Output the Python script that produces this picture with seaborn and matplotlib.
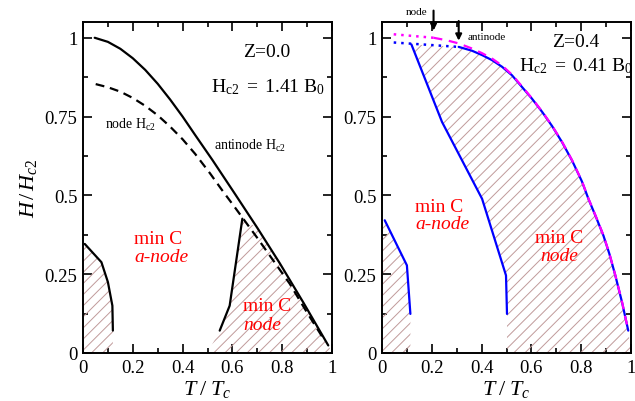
import matplotlib
matplotlib.use("Agg")
import matplotlib.pyplot as plt
from matplotlib.ticker import MultipleLocator
import seaborn as sns

# ---------------- Z = 0.0 panel ----------------
# antinode upper critical field (solid)
z0_anti_T = [0.047, 0.100, 0.150, 0.200, 0.250, 0.300, 0.350, 0.400, 0.450, 0.520, 0.610, 0.700, 0.790, 0.885, 0.985]
z0_anti_H = [1.000, 0.987, 0.965, 0.935, 0.898, 0.854, 0.804, 0.750, 0.692, 0.612, 0.505, 0.397, 0.285, 0.160, 0.024]
# node upper critical field (dashed)
z0_node_T = [0.051, 0.100, 0.150, 0.200, 0.250, 0.300, 0.350, 0.400, 0.450, 0.510, 0.560, 0.610, 0.700, 0.760, 0.830, 0.900, 0.970]
z0_node_H = [0.853, 0.843, 0.829, 0.809, 0.784, 0.754, 0.718, 0.678, 0.632, 0.570, 0.515, 0.462, 0.365, 0.298, 0.220, 0.128, 0.040]
# low-T boundary of the node-minimum region
z0_lowT_T = [0.007, 0.074, 0.100, 0.118, 0.120]
z0_lowT_H = [0.346, 0.288, 0.225, 0.150, 0.071]
# high-T boundary of the node-minimum region
z0_highT_T = [0.549, 0.589, 0.640]
z0_highT_H = [0.071, 0.150, 0.426]

# ---------------- Z = 0.4 panel ----------------
z4_hc2_T = [0.308, 0.361, 0.402, 0.442, 0.482, 0.522, 0.562, 0.602, 0.643, 0.683, 0.723,
            0.763, 0.803, 0.829, 0.857, 0.889, 0.913, 0.937, 0.964, 0.989]
z4_hc2_H = [0.971, 0.959, 0.945, 0.929, 0.908, 0.881, 0.844, 0.807, 0.765, 0.720, 0.669,
            0.611, 0.544, 0.489, 0.436, 0.373, 0.315, 0.246, 0.161, 0.071]
z4_node_T = [0.207, 0.260, 0.308, 0.361, 0.402, 0.442, 0.482, 0.522, 0.562, 0.602, 0.643, 0.683,
             0.723, 0.763, 0.803, 0.829, 0.857, 0.889, 0.913, 0.937, 0.964, 0.989]
z4_node_H = [1.000, 0.992, 0.982, 0.966, 0.951, 0.934, 0.912, 0.883, 0.846, 0.808, 0.766, 0.721,
             0.670, 0.612, 0.545, 0.490, 0.437, 0.374, 0.316, 0.247, 0.162, 0.071]
z4_anti_dot_T = [0.047, 0.308]
z4_anti_dot_H = [0.985, 0.971]
z4_node_dot_T = [0.047, 0.207]
z4_node_dot_H = [1.011, 1.000]
z4_lowT_T = [0.011, 0.100, 0.114]
z4_lowT_H = [0.421, 0.278, 0.124]
z4_mid_T = [0.118, 0.241, 0.402, 0.498, 0.502]
z4_mid_H = [0.979, 0.733, 0.489, 0.246, 0.124]
arrow_T = [0.207, 0.308]
arrow_H = [1.014, 0.982]
arrow_names = ["node", "antinode"]

xticks = [0, 0.2, 0.4, 0.6, 0.8, 1.0]
xtick_labels = ["0", "0.2", "0.4", "0.6", "0.8", "1"]
yticks = [0, 0.25, 0.5, 0.75, 1.0]
ytick_labels = ["0", "0.25", "0.5", "0.75", "1"]

sns.set_theme(style="ticks")
plt.rcParams.update({
    "font.family": ["Liberation Serif", "DejaVu Serif"],
    "mathtext.fontset": "custom",
    "mathtext.rm": "Liberation Serif",
    "mathtext.it": "Liberation Serif:italic",
    "mathtext.bf": "Liberation Serif:bold",
    "text.color": "black",
    "axes.labelcolor": "black",
    "axes.edgecolor": "black",
    "xtick.color": "black",
    "ytick.color": "black",
    "hatch.linewidth": 0.7,
})

HATCH = "#c09a9a"
RED = "#ff0000"
BLUE = "#0000ff"
MAGENTA = "#ff00ff"

fig = plt.figure(figsize=(6.35, 4.02), dpi=100)
ax1 = fig.add_axes([83 / 635, 48 / 402, 249 / 635, 331 / 402])
ax2 = fig.add_axes([382 / 635, 48 / 402, 249 / 635, 331 / 402])


def style_axes(ax):
    ax.set_xlim(0, 1)
    ax.set_ylim(0, 1.05)
    ax.set_xticks(xticks)
    ax.set_xticklabels(xtick_labels)
    ax.set_yticks(yticks)
    ax.set_yticklabels(ytick_labels)
    ax.xaxis.set_minor_locator(MultipleLocator(0.1))
    ax.yaxis.set_minor_locator(MultipleLocator(0.125))
    ax.tick_params(which="both", direction="in", top=True, right=True, width=1.2, labelsize=13.5)
    ax.tick_params(which="major", length=6.5, pad=4)
    ax.tick_params(which="minor", length=3.5)
    for s in ax.spines.values():
        s.set_visible(True)
        s.set_linewidth(1.4)
        s.set_color("black")
    ax.set_xlabel(r"$T\;/\;T_c$", fontsize=16)
    ax.xaxis.set_label_coords(0.5, -0.124)
    ax.xaxis.label.set_va("baseline")


def hatch_fill(ax, xs, ys):
    ax.fill(xs, ys, facecolor="none", edgecolor=HATCH, hatch="///", linewidth=0, zorder=1)


def line(ax, xs, ys, color, **kw):
    sns.lineplot(x=xs, y=ys, ax=ax, color=color, sort=False, estimator=None, **kw)


# ---- left panel ----
hatch_fill(ax1, [0, 0] + z0_lowT_T + [z0_lowT_T[-1]], [0, z0_lowT_H[0]] + z0_lowT_H + [0])
upper = [(t, h) for t, h in zip(z0_anti_T, z0_anti_H) if t > z0_highT_T[-1]]
hatch_fill(ax1,
           [0.50] + z0_highT_T + [t for t, _ in upper] + [1.0],
           [0.0] + z0_highT_H + [h for _, h in upper] + [0.0])
line(ax1, z0_node_T, z0_node_H, "black", linewidth=1.6, linestyle=(0, (4, 2.6)))
line(ax1, z0_anti_T, z0_anti_H, "black", linewidth=1.6)
line(ax1, z0_lowT_T, z0_lowT_H, "black", linewidth=1.6)
line(ax1, z0_highT_T, z0_highT_H, "black", linewidth=1.6)

ax1.text(0.737, 0.957, "Z=0.0", ha="center", va="center", fontsize=14)
ax1.text(0.743, 0.847, r"$\mathrm{H_{c2}\ =\ 1.41\ B_0}$", ha="center", va="center", fontsize=14)
ax1.text(0.087, 0.728, r"node $\mathrm{H_{c2}}$", ha="left", va="center", fontsize=10)
ax1.text(0.526, 0.661, r"antinode $\mathrm{H_{c2}}$", ha="left", va="center", fontsize=10)
ax1.text(0.205, 0.362, "min C", color=RED, ha="left", va="center", fontsize=14)
ax1.text(0.205, 0.305, "a-node", color=RED, style="italic", ha="left", va="center", fontsize=14)
ax1.text(0.644, 0.150, "min C", color=RED, ha="left", va="center", fontsize=14)
ax1.text(0.644, 0.089, "node", color=RED, style="italic", ha="left", va="center", fontsize=14)
ax1.set_ylabel(r"$H\,/\,H_{c2}$", fontsize=16)
ax1.yaxis.set_label_coords(-0.175, 0.5)

# ---- right panel ----
hatch_fill(ax2, [0, 0] + z4_lowT_T + [z4_lowT_T[-1]], [0, z4_lowT_H[0]] + z4_lowT_H + [0])
hatch_fill(ax2,
           [z4_mid_T[-1]] + z4_mid_T[::-1] + z4_hc2_T + [1.0],
           [0.0] + z4_mid_H[::-1] + z4_hc2_H + [0.0])
line(ax2, z4_hc2_T, z4_hc2_H, BLUE, linewidth=1.6)
line(ax2, z4_node_T, z4_node_H, MAGENTA, linewidth=1.6, linestyle=(0, (4, 3)))
line(ax2, z4_anti_dot_T, z4_anti_dot_H, BLUE, linewidth=1.8, linestyle=(0, (1, 2)))
line(ax2, z4_node_dot_T, z4_node_dot_H, MAGENTA, linewidth=1.8, linestyle=(0, (1, 2)))
line(ax2, z4_lowT_T, z4_lowT_H, BLUE, linewidth=1.6)
line(ax2, z4_mid_T, z4_mid_H, BLUE, linewidth=1.6)

for t, h, name, top, lab in zip(arrow_T, arrow_H, arrow_names, [1.095, 1.062], [(0.137, 1.082), (0.345, 1.003)]):
    ax2.annotate("", xy=(t, h), xytext=(t, top), annotation_clip=False,
                 arrowprops=dict(arrowstyle="-|>", color="black", lw=1.5, mutation_scale=9))
    ax2.text(lab[0], lab[1], name, ha="center" if name == "node" else "left", va="center", fontsize=8)

ax2.text(0.779, 0.987, "Z=0.4", ha="center", va="center", fontsize=14)
ax2.text(0.78, 0.912, r"$\mathrm{H_{c2}\ =\ 0.41\ B_0}$", ha="center", va="center", fontsize=14)
ax2.text(0.133, 0.466, "min C", color=RED, ha="left", va="center", fontsize=14)
ax2.text(0.133, 0.410, "a-node", color=RED, style="italic", ha="left", va="center", fontsize=14)
ax2.text(0.614, 0.366, "min C", color=RED, ha="left", va="center", fontsize=14)
ax2.text(0.634, 0.308, "node", color=RED, style="italic", ha="left", va="center", fontsize=14)

for ax in (ax1, ax2):
    style_axes(ax)
ax2.set_ylabel("")

fig.savefig("out.png", dpi=100)
